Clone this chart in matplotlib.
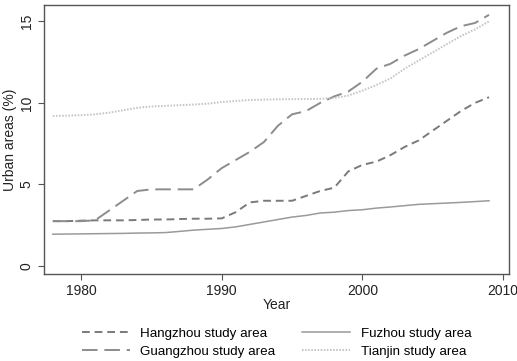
import numpy as np
import matplotlib
matplotlib.use('Agg')
import matplotlib.pyplot as plt

plt.rcParams['font.family'] = ['Liberation Sans', 'DejaVu Sans']

years = np.arange(1978, 2010)

# values (urban area, %)
hangzhou = [2.75, 2.75, 2.78, 2.8, 2.8, 2.8, 2.82, 2.85, 2.85, 2.88, 2.9, 2.9,
            2.92, 3.3, 3.9, 4.0, 4.0, 4.0, 4.3, 4.6, 4.8, 5.8, 6.2, 6.4,
            6.8, 7.3, 7.7, 8.3, 8.9, 9.5, 10.0, 10.35]
guangzhou = [2.75, 2.75, 2.75, 2.8, 3.4, 4.0, 4.6, 4.7, 4.7, 4.7, 4.7, 5.3,
             6.0, 6.5, 7.0, 7.6, 8.6, 9.3, 9.5, 10.0, 10.4, 10.7, 11.3, 12.1,
             12.4, 12.9, 13.3, 13.8, 14.3, 14.7, 14.9, 15.4]
fuzhou = [1.95, 1.96, 1.97, 1.98, 1.99, 2.0, 2.02, 2.03, 2.05, 2.12, 2.2, 2.25,
          2.3, 2.4, 2.55, 2.7, 2.85, 3.0, 3.1, 3.25, 3.3, 3.4, 3.45, 3.55,
          3.62, 3.7, 3.78, 3.82, 3.86, 3.9, 3.95, 4.0]
tianjin = [9.2, 9.22, 9.25, 9.3, 9.4, 9.55, 9.7, 9.78, 9.82, 9.86, 9.9, 9.95,
           10.05, 10.12, 10.18, 10.2, 10.22, 10.23, 10.24, 10.25, 10.3, 10.45, 10.75, 11.1,
           11.5, 12.1, 12.6, 13.1, 13.6, 14.1, 14.5, 15.0]

fig = plt.figure(figsize=(5.17, 3.61), dpi=100)
ax = fig.add_axes([0.085, 0.241, 0.899, 0.745])

ax.plot(years, hangzhou, color='#7a7a7a', lw=1.4, dashes=(4, 2.5), label='Hangzhou study area')
ax.plot(years, guangzhou, color='#8c8c8c', lw=1.4, dashes=(8, 3.5), label='Guangzhou study area')
ax.plot(years, fuzhou, color='#9a9a9a', lw=1.1, label='Fuzhou study area')
ax.plot(years, tianjin, color='#c4c4c4', lw=1.4, dashes=(0.8, 0.8), label='Tianjin study area')

ax.set_xlim(1977.37, 2010.4)
ax.set_ylim(-0.49, 16.0)
ax.set_xticks([1980, 1990, 2000, 2010])
ax.set_yticks([0, 5, 10, 15])
for lab in ax.get_yticklabels():
    lab.set_rotation(90)
    lab.set_va('center')
ax.tick_params(labelsize=10, color='#555555', length=4, width=0.8, labelcolor='#222222')
for s in ax.spines.values():
    s.set_color('#555555')
    s.set_linewidth(1.0)

ax.set_xlabel('Year', fontsize=10, color='#222222', labelpad=0)
ax.set_ylabel('Urban areas (%)', fontsize=10, color='#222222', labelpad=2)

fig.legend(loc='lower center', bbox_to_anchor=(0.535, -0.025), ncol=2, frameon=False,
           fontsize=9.6, handlelength=3.6, columnspacing=2.0, labelspacing=0.45,
           handletextpad=0.8)

fig.savefig('out.png', dpi=100)
